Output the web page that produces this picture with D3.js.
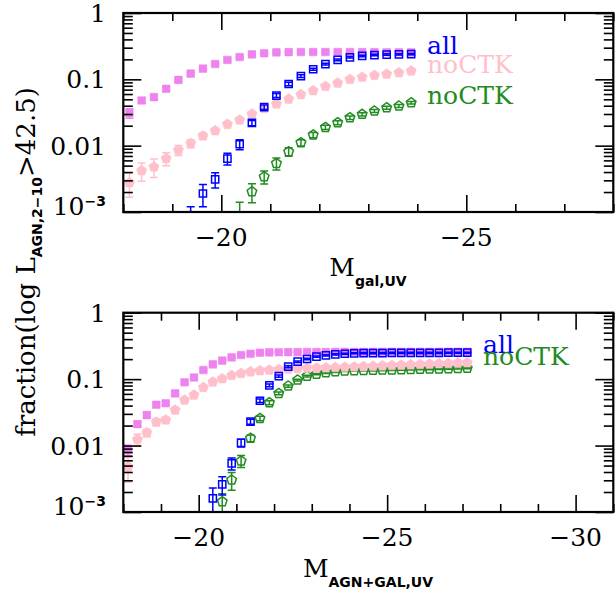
<!DOCTYPE html>
<html><head><meta charset="utf-8">
<script src="https://cdn.jsdelivr.net/npm/d3@7"></script>
<style>body{margin:0;background:#fff} svg{display:block}</style>
</head><body>
<svg id="c" width="615" height="598"></svg>
<script>
// ---------- DATA ----------
const topBins = [-18.125,-18.375,-18.625,-18.875,-19.125,-19.375,-19.625,-19.875,-20.125,-20.375,-20.625,-20.875,
  -21.125,-21.375,-21.625,-21.875,-22.125,-22.375,-22.625,-22.875,-23.125,-23.375,-23.625,-23.875];
const topAllGal     = [0.031,0.048,0.054,0.072,0.098,0.122,0.145,0.170,0.196,0.217,0.238,0.247,0.255,0.257,0.258,0.258,0.258,0.258,0.258,0.257,0.257,0.256,0.256,0.255];
const topAllGalErr  = [0.005,0.0045,0.004,0.005,0.005,0.006,0.006,0.007,0.007,0.008,0.008,0.008,0.008,0.008,0.008,0.008,0.008,0.008,0.008,0.008,0.008,0.008,0.008,0.008];
const topNoCTKGal   = [0.00277,0.0042,0.0048,0.0064,0.0086,0.0108,0.014,0.0168,0.021,0.0244,0.030,0.0366,0.0425,0.0505,0.059,0.0674,0.0785,0.088,0.100,0.108,0.115,0.120,0.126,0.134];
const topNoCTKGalErr= [0.0011,0.0013,0.0015,0.0014,0.0015,0.0015,0.0015,0.0015,0.0016,0.0017,0.0018,0.002,0.002,0.002,0.002,0.002,0.0025,0.0025,0.003,0.003,0.003,0.003,0.003,0.003];
const topAll        = [null,null,null,null,null,0.0007,0.0019,0.0031,0.0064,0.0105,0.022,0.038,0.057,0.085,0.112,0.142,0.170,0.196,0.215,0.225,0.232,0.236,0.238,0.240];
const topAllErr     = [0,0,0,0,0,0.0005,0.0007,0.0008,0.0013,0.0018,0.002,0.003,0.004,0.005,0.005,0.005,0.005,0.006,0.006,0.006,0.006,0.006,0.006,0.006];
const topNoCTK      = [null,null,null,null,null,null,null,null,null,0.0008,0.00202,0.0034,0.0054,0.0081,0.0111,0.0145,0.0189,0.0222,0.0265,0.0297,0.0333,0.0373,0.0396,0.0444];
const topNoCTKErr   = [0,0,0,0,0,0,0,0,0,0.0006,0.00064,0.00075,0.0011,0.0012,0.0012,0.0013,0.0014,0.0015,0.0016,0.0017,0.0018,0.0019,0.002,0.002];

const botBins = [-18.125,-18.375,-18.625,-18.875,-19.125,-19.375,-19.625,-19.875,-20.125,-20.375,-20.625,-20.875,
  -21.125,-21.375,-21.625,-21.875,-22.125,-22.375,-22.625,-22.875,-23.125,-23.375,-23.625,-23.875,-24.125,-24.375,
  -24.625,-24.875,-25.125,-25.375,-25.625,-25.875,-26.125,-26.375,-26.625,-26.875,-27.125];
const botAllGal     = [0.0086,0.021,0.0288,0.0412,0.0433,0.061,0.0896,0.106,0.137,0.167,0.190,0.213,0.231,0.241,0.250,
  0.253,0.254,0.255,0.255,0.256,0.256,0.256,0.257,0.257,0.257,0.257,0.258,0.258,0.258,0.258,0.258,0.258,0.258,0.258,0.258,0.258,0.258];
const botAllGalErr  = [0.0015,0.002,0.003,0.003,0.003,0.004,0.005,0.005,0.006,0.006,0.006,0.006,0.006,0.006,0.006,
  0.006,0.006,0.006,0.006,0.006,0.006,0.006,0.006,0.006,0.006,0.006,0.006,0.006,0.006,0.006,0.006,0.006,0.006,0.006,0.006,0.006,0.006];
const botNoCTKGal   = [0.0048,0.0124,0.0156,0.0226,0.0243,0.0343,0.0485,0.0577,0.0753,0.0906,0.1016,0.114,0.122,0.129,0.134,
  0.137,0.140,0.142,0.144,0.146,0.148,0.149,0.150,0.152,0.153,0.155,0.157,0.159,0.161,0.163,0.165,0.167,0.169,0.171,0.173,0.175,0.177];
const botNoCTKGalErr= [0.002,0.0024,0.002,0.0025,0.0025,0.003,0.003,0.003,0.003,0.003,0.003,0.003,0.003,0.003,0.003,
  0.003,0.003,0.003,0.003,0.003,0.003,0.003,0.003,0.003,0.003,0.003,0.003,0.003,0.003,0.003,0.003,0.003,0.003,0.003,0.003,0.003,0.003];
const botAll        = [null,null,null,null,null,null,null,null,null,0.0016,0.0026,0.0054,0.011,0.0229,0.0473,0.0807,0.111,0.154,
  0.183,0.201,0.218,0.228,0.236,0.241,0.245,0.246,0.247,0.247,0.248,0.248,0.248,0.249,0.249,0.249,0.250,0.250,0.250];
const botAllErr     = [0,0,0,0,0,0,0,0,0,0.0007,0.0008,0.0011,0.0015,0.002,0.003,0.004,0.004,0.005,
  0.005,0.005,0.005,0.005,0.005,0.005,0.005,0.005,0.005,0.005,0.005,0.005,0.005,0.005,0.005,0.005,0.005,0.005,0.005];
const botNoCTK      = [null,null,null,null,null,null,null,null,null,null,0.00143,0.00303,0.00586,0.0129,0.0257,0.0442,0.061,0.0788,
  0.097,0.111,0.119,0.125,0.129,0.133,0.134,0.135,0.136,0.137,0.138,0.139,0.140,0.141,0.142,0.143,0.144,0.145,0.146];
const botNoCTKErr   = [0,0,0,0,0,0,0,0,0,0,0.00045,0.0009,0.0012,0.0015,0.002,0.003,0.003,0.003,
  0.003,0.003,0.003,0.003,0.003,0.003,0.003,0.003,0.003,0.003,0.003,0.003,0.003,0.003,0.003,0.003,0.003,0.003,0.003];

const yTickLabels = [{v:1,t:"1"},{v:0.1,t:"0.1"},{v:0.01,t:"0.01"},{v:0.001,t:"10",sup:"−3"}];
const topXLabels = [-20,-25];
const botXLabels = [-20,-25,-30];

// ---------- DRAW ----------
const svg = d3.select("#c");
const serif = "'DejaVu Serif', serif";
const sans = "'DejaVu Sans', sans-serif";
const C = {violet:"#ee82ee", pink:"#ffc0cb", blue:"#0000ff", green:"#228b22"};

const pentagon = {
  draw(ctx, size){
    const r = Math.sqrt(size / 2.3776);
    for (let k=0;k<5;k++){
      const a = -Math.PI/2 + k*2*Math.PI/5;
      const px = r*Math.cos(a), py = r*Math.sin(a);
      if(k===0) ctx.moveTo(px,py); else ctx.lineTo(px,py);
    }
    ctx.closePath();
  }
};

function panel(id, bins, series, xdom, top, bottom, xLabs){
  const L=123.3, R=613.3;
  const x = d3.scaleLinear().domain(xdom).range([L,R]);
  const y = d3.scaleLog().domain([1e-3,1]).range([bottom, top]);
  const g = svg.append("g");
  svg.append("clipPath").attr("id",id).append("rect")
    .attr("x",L).attr("y",top).attr("width",R-L).attr("height",bottom-top);
  const pg = g.append("g").attr("clip-path",`url(#${id})`);

  series.forEach(s=>{
    const data = bins.map((b,i)=>({x:b, v:s.vals[i], e:s.err[i]})).filter(d=>d.v!=null);
    const eg = pg.append("g").attr("stroke",s.color).attr("stroke-width",1.5).attr("fill","none");
    data.forEach(d=>{
      const lo = Math.max(d.v-d.e, 1e-5), hi = d.v+d.e;
      const X = x(d.x);
      eg.append("line").attr("x1",X).attr("x2",X).attr("y1",y(lo)).attr("y2",y(hi));
      eg.append("line").attr("x1",X-4).attr("x2",X+4).attr("y1",y(lo)).attr("y2",y(lo));
      eg.append("line").attr("x1",X-4).attr("x2",X+4).attr("y1",y(hi)).attr("y2",y(hi));
    });
    const sym = d3.symbol().type(s.shape==="square"?d3.symbolSquare:pentagon).size(s.size);
    pg.append("g").selectAll("path").data(data).join("path")
      .attr("d",sym)
      .attr("transform",d=>`translate(${x(d.x)},${y(d.v)})`)
      .attr("fill",s.filled?s.color:"none")
      .attr("stroke",s.color)
      .attr("stroke-width",s.filled?0.5:1.5);
  });

  // axes with inward ticks
  const xt = x.ticks(15).filter(t=>Number.isInteger(t));
  const xMaj = xt.filter(t=>t%5===0), xMin = xt.filter(t=>t%5!==0);
  const yAll = y.ticks();
  const yMaj = yAll.filter(t=>Math.abs(Math.log10(t)-Math.round(Math.log10(t)))<1e-9);
  const yMin = yAll.filter(t=>!yMaj.includes(t));
  const ax = (axis, tr)=>{
    const a = g.append("g").attr("transform",tr).call(axis);
    a.select(".domain").remove();
    a.selectAll("text").remove();
    a.selectAll("line").attr("stroke","#000").attr("stroke-width",1.6);
  };
  ax(d3.axisBottom(x).tickValues(xMaj).tickSize(-17), `translate(0,${bottom})`);
  ax(d3.axisBottom(x).tickValues(xMin).tickSize(-8), `translate(0,${bottom})`);
  ax(d3.axisTop(x).tickValues(xMaj).tickSize(-17), `translate(0,${top})`);
  ax(d3.axisTop(x).tickValues(xMin).tickSize(-8), `translate(0,${top})`);
  ax(d3.axisLeft(y).tickValues(yMaj).tickSize(-18), `translate(${L},0)`);
  ax(d3.axisLeft(y).tickValues(yMin).tickSize(-9.5), `translate(${L},0)`);
  ax(d3.axisRight(y).tickValues(yMaj).tickSize(-18), `translate(${R},0)`);
  ax(d3.axisRight(y).tickValues(yMin).tickSize(-9.5), `translate(${R},0)`);

  g.append("rect").attr("x",L).attr("y",top).attr("width",R-L).attr("height",bottom-top)
    .attr("fill","none").attr("stroke","#000").attr("stroke-width",2.2);

  // y tick labels
  yTickLabels.forEach(l=>{
    const t = g.append("text").attr("x",106).attr("y",y(l.v)+(l.sup?3:9))
      .attr("text-anchor","end").attr("font-family",serif).attr("font-size",25).attr("fill","#000");
    t.append("tspan").text(l.t);
    if(l.sup) t.append("tspan").attr("font-family",sans).attr("font-weight","bold")
      .attr("font-size",14).attr("dy",-9).text(l.sup);
  });
  // x tick labels
  xLabs.forEach(v=>{
    g.append("text").attr("x",x(v)).attr("y",bottom+34).attr("text-anchor","middle")
      .attr("font-family",serif).attr("font-size",25).attr("fill","#000").text("−"+Math.abs(v));
  });
  return {x,y,g};
}

const mk = (vals,err,color,shape,filled,size)=>({vals,err,color,shape,filled,size});
const P1 = panel("clipTop", topBins, [
  mk(topAllGal, topAllGalErr, C.violet, "square", true, 58),
  mk(topNoCTK, topNoCTKErr, C.green, "pent", false, 60),
  mk(topNoCTKGal, topNoCTKGalErr, C.pink, "pent", true, 70),
  mk(topAll, topAllErr, C.blue, "square", false, 52)
], [-18,-28], 13, 212, topXLabels);

const P2 = panel("clipBot", botBins, [
  mk(botAllGal, botAllGalErr, C.violet, "square", true, 58),
  mk(botNoCTK, botNoCTKErr, C.green, "pent", false, 60),
  mk(botNoCTKGal, botNoCTKGalErr, C.pink, "pent", true, 70),
  mk(botAll, botAllErr, C.blue, "square", false, 52)
], [-18,-31], 312.7, 512, botXLabels);

// legends
const leg = (x,y,txt,col)=>svg.append("text").attr("x",x).attr("y",y).attr("font-family",serif)
  .attr("font-size",25).attr("fill",col).text(txt);
leg(427,54,"all",C.blue);
leg(427,73,"noCTK",C.pink);
leg(427,104,"noCTK",C.green);
leg(483,353,"all",C.blue);
leg(483,365,"noCTK",C.green);

// x titles
function xTitle(cx, y, sub){
  const t = svg.append("text").attr("x",cx).attr("y",y).attr("text-anchor","middle")
    .attr("font-family",serif).attr("font-size",25).attr("fill","#000");
  t.append("tspan").text("M");
  t.append("tspan").attr("font-family",sans).attr("font-weight","bold").attr("font-size",14)
    .attr("dy",10).text(sub);
}
xTitle(368, 276, "gal,UV");
xTitle(368, 577, "AGN+GAL,UV");

// y title
const yt = svg.append("text").attr("transform","translate(35,262) rotate(-90)")
  .attr("text-anchor","middle").attr("font-family",serif).attr("font-size",26).attr("fill","#000");
yt.append("tspan").text("fraction(log L");
yt.append("tspan").attr("font-family",sans).attr("font-weight","bold").attr("font-size",14).attr("dy",7).text("AGN,2−10");
yt.append("tspan").attr("dy",-7).text(">42.5)");
</script>
</body></html>
